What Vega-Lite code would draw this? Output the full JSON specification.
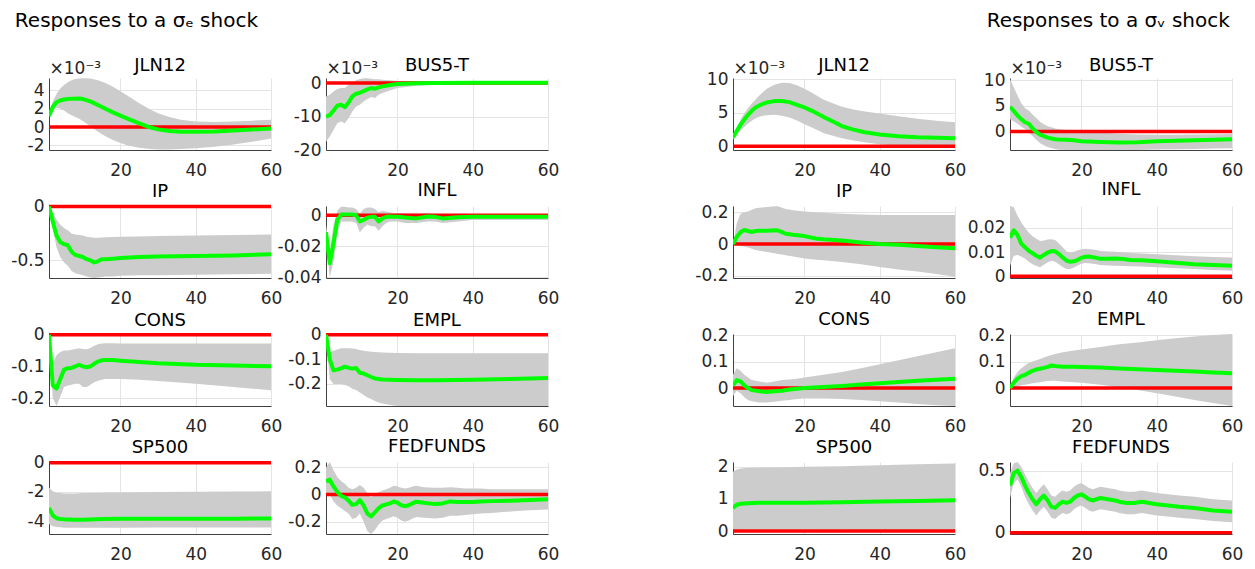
{
"$schema":"https://vega.github.io/schema/vega-lite/v6.json",
"background":"white",
"padding":{"left":10,"top":11,"right":5,"bottom":5},
"datasets":{
"L1":[{"x":1,"lo":1.1,"m":1.2,"hi":1.3},{"x":2,"lo":1.8,"m":2.2,"hi":2.8},{"x":3,"lo":2.1,"m":2.7,"hi":3.6},{"x":4,"lo":2.0,"m":2.9,"hi":4.2},{"x":5,"lo":1.8,"m":3.0,"hi":4.6},{"x":6,"lo":1.5,"m":3.05,"hi":4.9},{"x":7,"lo":1.3,"m":3.1,"hi":5.1},{"x":8,"lo":1.1,"m":3.1,"hi":5.25},{"x":9,"lo":0.9,"m":3.12,"hi":5.3},{"x":10,"lo":0.65,"m":3.05,"hi":5.33},{"x":12,"lo":0.1,"m":2.8,"hi":5.3},{"x":14,"lo":-0.5,"m":2.4,"hi":5.1},{"x":16,"lo":-1.0,"m":2.0,"hi":4.8},{"x":18,"lo":-1.4,"m":1.6,"hi":4.4},{"x":20,"lo":-1.75,"m":1.25,"hi":3.9},{"x":22,"lo":-2.0,"m":0.9,"hi":3.4},{"x":25,"lo":-2.25,"m":0.4,"hi":2.6},{"x":28,"lo":-2.4,"m":-0.05,"hi":1.9},{"x":30,"lo":-2.45,"m":-0.25,"hi":1.5},{"x":33,"lo":-2.45,"m":-0.42,"hi":1.1},{"x":36,"lo":-2.4,"m":-0.5,"hi":0.8},{"x":40,"lo":-2.3,"m":-0.52,"hi":0.6},{"x":45,"lo":-2.15,"m":-0.48,"hi":0.55},{"x":50,"lo":-1.9,"m":-0.38,"hi":0.6},{"x":55,"lo":-1.6,"m":-0.27,"hi":0.7},{"x":60,"lo":-1.25,"m":-0.15,"hi":0.8}],
"L2":[{"x":1,"lo":-17.5,"m":-10,"hi":-4},{"x":2,"lo":-16,"m":-9.6,"hi":-3.5},{"x":3,"lo":-14,"m":-8.2,"hi":-2.5},{"x":4,"lo":-12,"m":-6.8,"hi":-1.8},{"x":5,"lo":-11.5,"m":-6.5,"hi":-1.5},{"x":6,"lo":-12,"m":-7.2,"hi":-1.5},{"x":7,"lo":-10.5,"m":-5.8,"hi":-0.5},{"x":8,"lo":-8.5,"m":-4.0,"hi":0.2},{"x":9,"lo":-7,"m":-3.2,"hi":0.8},{"x":10,"lo":-6.5,"m":-2.9,"hi":1.2},{"x":11,"lo":-5.5,"m":-2.4,"hi":1.4},{"x":12,"lo":-4.8,"m":-1.9,"hi":1.4},{"x":13,"lo":-4.2,"m":-1.5,"hi":1.3},{"x":14,"lo":-4.5,"m":-1.7,"hi":1.1},{"x":15,"lo":-3.5,"m":-1.3,"hi":1.1},{"x":16,"lo":-3,"m":-1.0,"hi":1.0},{"x":18,"lo":-2.2,"m":-0.6,"hi":0.8},{"x":20,"lo":-1.5,"m":-0.3,"hi":0.6},{"x":25,"lo":-0.8,"m":-0.05,"hi":0.45},{"x":30,"lo":-0.5,"m":0.0,"hi":0.35},{"x":40,"lo":-0.35,"m":0.05,"hi":0.3},{"x":50,"lo":-0.3,"m":0.1,"hi":0.3},{"x":60,"lo":-0.25,"m":0.1,"hi":0.3}],
"L3":[{"x":1,"lo":0,"m":0,"hi":0},{"x":2,"lo":-0.2,"m":-0.14,"hi":-0.05},{"x":3,"lo":-0.38,"m":-0.27,"hi":-0.12},{"x":4,"lo":-0.47,"m":-0.33,"hi":-0.17},{"x":5,"lo":-0.52,"m":-0.35,"hi":-0.2},{"x":6,"lo":-0.55,"m":-0.36,"hi":-0.22},{"x":7,"lo":-0.6,"m":-0.42,"hi":-0.25},{"x":8,"lo":-0.62,"m":-0.45,"hi":-0.26},{"x":9,"lo":-0.63,"m":-0.46,"hi":-0.265},{"x":10,"lo":-0.64,"m":-0.47,"hi":-0.27},{"x":11,"lo":-0.65,"m":-0.49,"hi":-0.28},{"x":12,"lo":-0.66,"m":-0.5,"hi":-0.285},{"x":13,"lo":-0.665,"m":-0.52,"hi":-0.29},{"x":14,"lo":-0.66,"m":-0.51,"hi":-0.29},{"x":15,"lo":-0.655,"m":-0.49,"hi":-0.287},{"x":16,"lo":-0.65,"m":-0.49,"hi":-0.285},{"x":18,"lo":-0.65,"m":-0.485,"hi":-0.283},{"x":20,"lo":-0.645,"m":-0.48,"hi":-0.28},{"x":25,"lo":-0.64,"m":-0.47,"hi":-0.278},{"x":30,"lo":-0.64,"m":-0.465,"hi":-0.275},{"x":40,"lo":-0.635,"m":-0.46,"hi":-0.27},{"x":50,"lo":-0.63,"m":-0.455,"hi":-0.265},{"x":60,"lo":-0.625,"m":-0.445,"hi":-0.26}],
"L4":[{"x":1,"lo":-0.015,"m":-0.011,"hi":-0.006},{"x":2,"lo":-0.04,"m":-0.031,"hi":-0.024},{"x":3,"lo":-0.03,"m":-0.018,"hi":-0.006},{"x":4,"lo":-0.012,"m":-0.003,"hi":0.003},{"x":5,"lo":-0.004,"m":0.0005,"hi":0.0055},{"x":6,"lo":-0.004,"m":0.0005,"hi":0.0055},{"x":7,"lo":-0.004,"m":0.0005,"hi":0.005},{"x":8,"lo":-0.004,"m":0.0005,"hi":0.005},{"x":9,"lo":-0.005,"m":0,"hi":0.004},{"x":10,"lo":-0.011,"m":-0.004,"hi":0.001},{"x":11,"lo":-0.008,"m":-0.003,"hi":0.004},{"x":12,"lo":-0.006,"m":-0.0015,"hi":0.005},{"x":13,"lo":-0.007,"m":-0.001,"hi":0.005},{"x":14,"lo":-0.007,"m":-0.001,"hi":0.004},{"x":15,"lo":-0.01,"m":-0.004,"hi":0.002},{"x":16,"lo":-0.007,"m":-0.002,"hi":0.003},{"x":17,"lo":-0.005,"m":-0.001,"hi":0.0025},{"x":18,"lo":-0.004,"m":-0.0008,"hi":0.002},{"x":19,"lo":-0.004,"m":-0.001,"hi":0.0015},{"x":20,"lo":-0.004,"m":-0.001,"hi":0.0015},{"x":22,"lo":-0.005,"m":-0.0015,"hi":0.0015},{"x":25,"lo":-0.005,"m":-0.002,"hi":0.001},{"x":28,"lo":-0.004,"m":-0.0008,"hi":0.0015},{"x":30,"lo":-0.004,"m":-0.001,"hi":0.001},{"x":32,"lo":-0.005,"m":-0.002,"hi":0.0008},{"x":36,"lo":-0.004,"m":-0.0012,"hi":0.001},{"x":40,"lo":-0.003,"m":-0.001,"hi":0.0008},{"x":50,"lo":-0.003,"m":-0.001,"hi":0.0008},{"x":60,"lo":-0.003,"m":-0.001,"hi":0.0008}],
"L5":[{"x":1,"lo":-0.01,"m":0,"hi":0},{"x":2,"lo":-0.2,"m":-0.16,"hi":-0.09},{"x":3,"lo":-0.225,"m":-0.17,"hi":-0.065},{"x":4,"lo":-0.195,"m":-0.14,"hi":-0.055},{"x":5,"lo":-0.165,"m":-0.11,"hi":-0.05},{"x":6,"lo":-0.16,"m":-0.106,"hi":-0.05},{"x":7,"lo":-0.158,"m":-0.105,"hi":-0.048},{"x":8,"lo":-0.155,"m":-0.1,"hi":-0.045},{"x":9,"lo":-0.155,"m":-0.095,"hi":-0.043},{"x":10,"lo":-0.165,"m":-0.1,"hi":-0.045},{"x":11,"lo":-0.165,"m":-0.103,"hi":-0.046},{"x":12,"lo":-0.158,"m":-0.1,"hi":-0.042},{"x":13,"lo":-0.15,"m":-0.092,"hi":-0.035},{"x":14,"lo":-0.145,"m":-0.085,"hi":-0.03},{"x":15,"lo":-0.142,"m":-0.081,"hi":-0.028},{"x":16,"lo":-0.14,"m":-0.08,"hi":-0.027},{"x":18,"lo":-0.14,"m":-0.08,"hi":-0.027},{"x":20,"lo":-0.14,"m":-0.082,"hi":-0.028},{"x":25,"lo":-0.142,"m":-0.086,"hi":-0.028},{"x":30,"lo":-0.146,"m":-0.09,"hi":-0.028},{"x":40,"lo":-0.155,"m":-0.095,"hi":-0.028},{"x":50,"lo":-0.165,"m":-0.097,"hi":-0.028},{"x":60,"lo":-0.175,"m":-0.1,"hi":-0.028}],
"L6":[{"x":1,"lo":-0.01,"m":0,"hi":0},{"x":2,"lo":-0.18,"m":-0.1,"hi":-0.07},{"x":3,"lo":-0.2,"m":-0.145,"hi":-0.065},{"x":4,"lo":-0.2,"m":-0.142,"hi":-0.06},{"x":5,"lo":-0.2,"m":-0.137,"hi":-0.055},{"x":6,"lo":-0.205,"m":-0.13,"hi":-0.055},{"x":7,"lo":-0.21,"m":-0.135,"hi":-0.055},{"x":8,"lo":-0.22,"m":-0.138,"hi":-0.056},{"x":9,"lo":-0.225,"m":-0.135,"hi":-0.058},{"x":10,"lo":-0.235,"m":-0.155,"hi":-0.062},{"x":11,"lo":-0.245,"m":-0.158,"hi":-0.065},{"x":12,"lo":-0.255,"m":-0.165,"hi":-0.067},{"x":13,"lo":-0.262,"m":-0.172,"hi":-0.069},{"x":14,"lo":-0.27,"m":-0.178,"hi":-0.07},{"x":15,"lo":-0.276,"m":-0.18,"hi":-0.071},{"x":16,"lo":-0.28,"m":-0.182,"hi":-0.072},{"x":18,"lo":-0.286,"m":-0.183,"hi":-0.073},{"x":20,"lo":-0.29,"m":-0.184,"hi":-0.074},{"x":25,"lo":-0.29,"m":-0.185,"hi":-0.075},{"x":30,"lo":-0.29,"m":-0.185,"hi":-0.075},{"x":40,"lo":-0.29,"m":-0.183,"hi":-0.075},{"x":50,"lo":-0.29,"m":-0.18,"hi":-0.075},{"x":60,"lo":-0.29,"m":-0.176,"hi":-0.075}],
"L7":[{"x":1,"lo":-4.2,"m":-3.1,"hi":-1.7},{"x":2,"lo":-4.35,"m":-3.6,"hi":-1.95},{"x":3,"lo":-4.4,"m":-3.8,"hi":-2.05},{"x":4,"lo":-4.42,"m":-3.85,"hi":-2.08},{"x":5,"lo":-4.45,"m":-3.87,"hi":-2.1},{"x":6,"lo":-4.45,"m":-3.88,"hi":-2.1},{"x":8,"lo":-4.46,"m":-3.9,"hi":-2.1},{"x":10,"lo":-4.46,"m":-3.9,"hi":-2.08},{"x":12,"lo":-4.46,"m":-3.88,"hi":-2.07},{"x":15,"lo":-4.45,"m":-3.85,"hi":-2.05},{"x":20,"lo":-4.45,"m":-3.84,"hi":-2.03},{"x":30,"lo":-4.44,"m":-3.83,"hi":-2.0},{"x":40,"lo":-4.44,"m":-3.83,"hi":-1.98},{"x":50,"lo":-4.43,"m":-3.83,"hi":-1.97},{"x":60,"lo":-4.43,"m":-3.82,"hi":-1.96}],
"L8":[{"x":1,"lo":0.0,"m":0.1,"hi":0.2},{"x":2,"lo":0.0,"m":0.11,"hi":0.24},{"x":3,"lo":-0.05,"m":0.06,"hi":0.18},{"x":4,"lo":-0.08,"m":0.02,"hi":0.13},{"x":5,"lo":-0.1,"m":-0.01,"hi":0.1},{"x":6,"lo":-0.12,"m":-0.02,"hi":0.08},{"x":7,"lo":-0.14,"m":-0.045,"hi":0.05},{"x":8,"lo":-0.18,"m":-0.075,"hi":0.04},{"x":9,"lo":-0.17,"m":-0.07,"hi":0.05},{"x":10,"lo":-0.14,"m":-0.04,"hi":0.07},{"x":11,"lo":-0.2,"m":-0.08,"hi":0.05},{"x":12,"lo":-0.27,"m":-0.14,"hi":0.01},{"x":13,"lo":-0.29,"m":-0.16,"hi":-0.02},{"x":14,"lo":-0.26,"m":-0.13,"hi":0.0},{"x":15,"lo":-0.22,"m":-0.1,"hi":0.02},{"x":16,"lo":-0.19,"m":-0.08,"hi":0.03},{"x":17,"lo":-0.18,"m":-0.072,"hi":0.04},{"x":18,"lo":-0.17,"m":-0.065,"hi":0.05},{"x":19,"lo":-0.16,"m":-0.05,"hi":0.065},{"x":20,"lo":-0.17,"m":-0.06,"hi":0.06},{"x":21,"lo":-0.19,"m":-0.078,"hi":0.05},{"x":22,"lo":-0.2,"m":-0.085,"hi":0.045},{"x":23,"lo":-0.19,"m":-0.078,"hi":0.05},{"x":24,"lo":-0.175,"m":-0.065,"hi":0.06},{"x":25,"lo":-0.165,"m":-0.052,"hi":0.065},{"x":27,"lo":-0.17,"m":-0.06,"hi":0.055},{"x":30,"lo":-0.175,"m":-0.07,"hi":0.05},{"x":32,"lo":-0.17,"m":-0.065,"hi":0.05},{"x":34,"lo":-0.155,"m":-0.05,"hi":0.055},{"x":36,"lo":-0.155,"m":-0.055,"hi":0.05},{"x":38,"lo":-0.15,"m":-0.055,"hi":0.045},{"x":40,"lo":-0.145,"m":-0.055,"hi":0.045},{"x":42,"lo":-0.14,"m":-0.05,"hi":0.045},{"x":45,"lo":-0.135,"m":-0.048,"hi":0.04},{"x":50,"lo":-0.125,"m":-0.045,"hi":0.04},{"x":55,"lo":-0.115,"m":-0.04,"hi":0.04},{"x":60,"lo":-0.11,"m":-0.035,"hi":0.04}],
"R1":[{"x":1,"lo":1.0,"m":1.3,"hi":1.6},{"x":2,"lo":1.8,"m":2.3,"hi":2.8},{"x":3,"lo":2.4,"m":3.2,"hi":4.0},{"x":4,"lo":2.9,"m":4.0,"hi":4.9},{"x":5,"lo":3.4,"m":4.7,"hi":5.7},{"x":6,"lo":3.8,"m":5.3,"hi":6.4},{"x":7,"lo":4.2,"m":5.8,"hi":7.0},{"x":8,"lo":4.4,"m":6.1,"hi":7.6},{"x":9,"lo":4.55,"m":6.35,"hi":8.1},{"x":10,"lo":4.65,"m":6.55,"hi":8.6},{"x":12,"lo":4.7,"m":6.75,"hi":9.2},{"x":14,"lo":4.55,"m":6.75,"hi":9.5},{"x":16,"lo":4.3,"m":6.6,"hi":9.45},{"x":18,"lo":3.85,"m":6.2,"hi":9.1},{"x":20,"lo":3.3,"m":5.8,"hi":8.6},{"x":22,"lo":2.8,"m":5.3,"hi":8.0},{"x":25,"lo":2.0,"m":4.4,"hi":7.0},{"x":28,"lo":1.5,"m":3.6,"hi":6.3},{"x":30,"lo":1.2,"m":3.0,"hi":5.9},{"x":33,"lo":0.85,"m":2.5,"hi":5.5},{"x":36,"lo":0.6,"m":2.1,"hi":5.2},{"x":40,"lo":0.3,"m":1.75,"hi":4.9},{"x":45,"lo":0.1,"m":1.5,"hi":4.5},{"x":50,"lo":0.0,"m":1.35,"hi":4.1},{"x":55,"lo":-0.05,"m":1.27,"hi":3.8},{"x":60,"lo":-0.1,"m":1.2,"hi":3.6}],
"R2":[{"x":1,"lo":2.4,"m":4.8,"hi":10.2},{"x":2,"lo":2.0,"m":4.0,"hi":8.6},{"x":3,"lo":1.5,"m":3.1,"hi":7.0},{"x":4,"lo":0.9,"m":2.4,"hi":5.5},{"x":5,"lo":0.5,"m":1.8,"hi":4.5},{"x":6,"lo":-0.2,"m":1.5,"hi":4.1},{"x":7,"lo":-0.9,"m":0.6,"hi":3.3},{"x":8,"lo":-1.6,"m":-0.1,"hi":2.6},{"x":9,"lo":-2.3,"m":-0.6,"hi":1.9},{"x":10,"lo":-2.7,"m":-0.9,"hi":1.4},{"x":11,"lo":-3.0,"m":-1.2,"hi":1.0},{"x":12,"lo":-3.2,"m":-1.35,"hi":0.8},{"x":13,"lo":-3.4,"m":-1.5,"hi":0.6},{"x":14,"lo":-3.55,"m":-1.55,"hi":0.45},{"x":16,"lo":-3.6,"m":-1.6,"hi":0.3},{"x":18,"lo":-3.6,"m":-1.7,"hi":0.2},{"x":20,"lo":-3.6,"m":-1.9,"hi":0.1},{"x":25,"lo":-3.6,"m":-2.05,"hi":-0.2},{"x":30,"lo":-3.6,"m":-2.15,"hi":-0.45},{"x":35,"lo":-3.6,"m":-2.1,"hi":-0.6},{"x":40,"lo":-3.5,"m":-1.9,"hi":-0.65},{"x":45,"lo":-3.45,"m":-1.8,"hi":-0.65},{"x":50,"lo":-3.4,"m":-1.7,"hi":-0.6},{"x":55,"lo":-3.3,"m":-1.6,"hi":-0.55},{"x":60,"lo":-3.25,"m":-1.5,"hi":-0.5}],
"R3":[{"x":1,"lo":0,"m":0,"hi":0},{"x":2,"lo":-0.005,"m":0.045,"hi":0.13},{"x":3,"lo":-0.01,"m":0.075,"hi":0.19},{"x":4,"lo":-0.015,"m":0.088,"hi":0.2},{"x":5,"lo":-0.022,"m":0.082,"hi":0.205},{"x":6,"lo":-0.03,"m":0.076,"hi":0.215},{"x":7,"lo":-0.037,"m":0.082,"hi":0.225},{"x":8,"lo":-0.042,"m":0.083,"hi":0.228},{"x":10,"lo":-0.05,"m":0.084,"hi":0.232},{"x":12,"lo":-0.058,"m":0.087,"hi":0.238},{"x":13,"lo":-0.062,"m":0.085,"hi":0.238},{"x":14,"lo":-0.066,"m":0.075,"hi":0.228},{"x":15,"lo":-0.07,"m":0.065,"hi":0.22},{"x":17,"lo":-0.078,"m":0.058,"hi":0.212},{"x":20,"lo":-0.09,"m":0.05,"hi":0.205},{"x":23,"lo":-0.098,"m":0.035,"hi":0.2},{"x":25,"lo":-0.102,"m":0.03,"hi":0.197},{"x":30,"lo":-0.112,"m":0.022,"hi":0.19},{"x":35,"lo":-0.126,"m":0.01,"hi":0.186},{"x":40,"lo":-0.144,"m":0.0,"hi":0.183},{"x":45,"lo":-0.16,"m":-0.005,"hi":0.182},{"x":50,"lo":-0.172,"m":-0.012,"hi":0.182},{"x":55,"lo":-0.188,"m":-0.02,"hi":0.182},{"x":60,"lo":-0.205,"m":-0.027,"hi":0.182}],
"R4":[{"x":1,"lo":0.0044,"m":0.0159,"hi":0.029},{"x":2,"lo":0.0085,"m":0.019,"hi":0.0285},{"x":3,"lo":0.0088,"m":0.017,"hi":0.025},{"x":4,"lo":0.0082,"m":0.0135,"hi":0.0222},{"x":5,"lo":0.0072,"m":0.012,"hi":0.02},{"x":6,"lo":0.006,"m":0.0105,"hi":0.018},{"x":7,"lo":0.005,"m":0.0095,"hi":0.0165},{"x":8,"lo":0.0042,"m":0.0085,"hi":0.0155},{"x":9,"lo":0.0037,"m":0.0077,"hi":0.0146},{"x":10,"lo":0.0048,"m":0.0088,"hi":0.0148},{"x":11,"lo":0.0058,"m":0.0098,"hi":0.0152},{"x":12,"lo":0.0064,"m":0.0104,"hi":0.0153},{"x":13,"lo":0.006,"m":0.0103,"hi":0.015},{"x":14,"lo":0.005,"m":0.0092,"hi":0.0135},{"x":15,"lo":0.0038,"m":0.0078,"hi":0.012},{"x":16,"lo":0.003,"m":0.0065,"hi":0.0102},{"x":17,"lo":0.003,"m":0.006,"hi":0.0098},{"x":18,"lo":0.0036,"m":0.0062,"hi":0.0101},{"x":19,"lo":0.0045,"m":0.0068,"hi":0.0107},{"x":20,"lo":0.0052,"m":0.0076,"hi":0.0112},{"x":21,"lo":0.0055,"m":0.0081,"hi":0.0114},{"x":22,"lo":0.0054,"m":0.0082,"hi":0.0113},{"x":24,"lo":0.005,"m":0.0076,"hi":0.0108},{"x":25,"lo":0.0047,"m":0.0072,"hi":0.0104},{"x":27,"lo":0.0045,"m":0.0072,"hi":0.0102},{"x":29,"lo":0.0044,"m":0.0073,"hi":0.0101},{"x":31,"lo":0.0043,"m":0.0071,"hi":0.0099},{"x":33,"lo":0.0041,"m":0.0067,"hi":0.0096},{"x":36,"lo":0.004,"m":0.0066,"hi":0.0094},{"x":40,"lo":0.0037,"m":0.0062,"hi":0.0091},{"x":45,"lo":0.0033,"m":0.0056,"hi":0.0087},{"x":50,"lo":0.003,"m":0.005,"hi":0.0083},{"x":55,"lo":0.0026,"m":0.0047,"hi":0.008},{"x":60,"lo":0.0023,"m":0.0044,"hi":0.0078}],
"R5":[{"x":1,"lo":-0.03,"m":0.01,"hi":0.05},{"x":2,"lo":-0.01,"m":0.03,"hi":0.075},{"x":3,"lo":-0.02,"m":0.025,"hi":0.065},{"x":4,"lo":-0.035,"m":0.01,"hi":0.05},{"x":5,"lo":-0.045,"m":0.0,"hi":0.04},{"x":6,"lo":-0.05,"m":-0.008,"hi":0.03},{"x":8,"lo":-0.055,"m":-0.012,"hi":0.025},{"x":10,"lo":-0.055,"m":-0.015,"hi":0.02},{"x":12,"lo":-0.052,"m":-0.012,"hi":0.025},{"x":14,"lo":-0.048,"m":-0.01,"hi":0.03},{"x":16,"lo":-0.045,"m":-0.006,"hi":0.032},{"x":18,"lo":-0.042,"m":-0.003,"hi":0.035},{"x":20,"lo":-0.04,"m":0.0,"hi":0.04},{"x":25,"lo":-0.04,"m":0.004,"hi":0.05},{"x":30,"lo":-0.042,"m":0.008,"hi":0.06},{"x":35,"lo":-0.045,"m":0.013,"hi":0.075},{"x":40,"lo":-0.05,"m":0.018,"hi":0.09},{"x":45,"lo":-0.055,"m":0.023,"hi":0.105},{"x":50,"lo":-0.06,"m":0.027,"hi":0.12},{"x":55,"lo":-0.065,"m":0.031,"hi":0.135},{"x":60,"lo":-0.068,"m":0.035,"hi":0.15}],
"R6":[{"x":1,"lo":0,"m":0,"hi":0},{"x":2,"lo":0,"m":0.02,"hi":0.04},{"x":3,"lo":0.005,"m":0.035,"hi":0.06},{"x":4,"lo":0.01,"m":0.045,"hi":0.075},{"x":5,"lo":0.012,"m":0.05,"hi":0.085},{"x":6,"lo":0.015,"m":0.058,"hi":0.095},{"x":7,"lo":0.018,"m":0.065,"hi":0.1},{"x":8,"lo":0.02,"m":0.07,"hi":0.105},{"x":9,"lo":0.022,"m":0.073,"hi":0.11},{"x":10,"lo":0.025,"m":0.076,"hi":0.115},{"x":11,"lo":0.026,"m":0.08,"hi":0.12},{"x":12,"lo":0.027,"m":0.085,"hi":0.125},{"x":13,"lo":0.027,"m":0.083,"hi":0.128},{"x":15,"lo":0.025,"m":0.08,"hi":0.135},{"x":18,"lo":0.022,"m":0.08,"hi":0.142},{"x":20,"lo":0.02,"m":0.079,"hi":0.145},{"x":25,"lo":0.012,"m":0.077,"hi":0.155},{"x":30,"lo":0.003,"m":0.074,"hi":0.165},{"x":35,"lo":-0.008,"m":0.071,"hi":0.172},{"x":40,"lo":-0.02,"m":0.068,"hi":0.18},{"x":45,"lo":-0.032,"m":0.065,"hi":0.188},{"x":50,"lo":-0.045,"m":0.062,"hi":0.195},{"x":55,"lo":-0.057,"m":0.059,"hi":0.2},{"x":60,"lo":-0.068,"m":0.056,"hi":0.204}],
"R7":[{"x":1,"lo":0.0,"m":0.72,"hi":1.85},{"x":2,"lo":0.03,"m":0.82,"hi":1.92},{"x":3,"lo":0.04,"m":0.85,"hi":1.95},{"x":5,"lo":0.05,"m":0.87,"hi":1.97},{"x":8,"lo":0.05,"m":0.88,"hi":1.98},{"x":10,"lo":0.05,"m":0.88,"hi":1.98},{"x":15,"lo":0.05,"m":0.88,"hi":1.99},{"x":20,"lo":0.05,"m":0.88,"hi":2.0},{"x":30,"lo":0.04,"m":0.9,"hi":2.02},{"x":40,"lo":0.02,"m":0.92,"hi":2.05},{"x":50,"lo":0.0,"m":0.94,"hi":2.08},{"x":60,"lo":-0.03,"m":0.96,"hi":2.1}],
"R8":[{"x":1,"lo":0.28,"m":0.38,"hi":0.48},{"x":2,"lo":0.4,"m":0.48,"hi":0.56},{"x":3,"lo":0.43,"m":0.5,"hi":0.57},{"x":4,"lo":0.37,"m":0.45,"hi":0.53},{"x":5,"lo":0.29,"m":0.38,"hi":0.47},{"x":6,"lo":0.23,"m":0.32,"hi":0.41},{"x":7,"lo":0.18,"m":0.27,"hi":0.36},{"x":8,"lo":0.14,"m":0.23,"hi":0.32},{"x":9,"lo":0.18,"m":0.27,"hi":0.36},{"x":10,"lo":0.21,"m":0.3,"hi":0.39},{"x":11,"lo":0.17,"m":0.26,"hi":0.35},{"x":12,"lo":0.12,"m":0.21,"hi":0.3},{"x":13,"lo":0.11,"m":0.2,"hi":0.29},{"x":14,"lo":0.14,"m":0.23,"hi":0.32},{"x":15,"lo":0.16,"m":0.25,"hi":0.34},{"x":16,"lo":0.15,"m":0.24,"hi":0.33},{"x":17,"lo":0.16,"m":0.25,"hi":0.34},{"x":18,"lo":0.19,"m":0.28,"hi":0.37},{"x":19,"lo":0.21,"m":0.3,"hi":0.39},{"x":20,"lo":0.22,"m":0.31,"hi":0.4},{"x":21,"lo":0.2,"m":0.29,"hi":0.38},{"x":22,"lo":0.18,"m":0.27,"hi":0.36},{"x":23,"lo":0.17,"m":0.26,"hi":0.35},{"x":24,"lo":0.18,"m":0.27,"hi":0.36},{"x":25,"lo":0.19,"m":0.28,"hi":0.37},{"x":27,"lo":0.18,"m":0.27,"hi":0.36},{"x":29,"lo":0.17,"m":0.26,"hi":0.35},{"x":30,"lo":0.16,"m":0.25,"hi":0.34},{"x":32,"lo":0.15,"m":0.24,"hi":0.33},{"x":34,"lo":0.15,"m":0.24,"hi":0.33},{"x":36,"lo":0.16,"m":0.25,"hi":0.34},{"x":38,"lo":0.15,"m":0.24,"hi":0.33},{"x":40,"lo":0.14,"m":0.23,"hi":0.32},{"x":43,"lo":0.13,"m":0.22,"hi":0.31},{"x":46,"lo":0.12,"m":0.21,"hi":0.3},{"x":50,"lo":0.11,"m":0.2,"hi":0.29},{"x":55,"lo":0.095,"m":0.18,"hi":0.27},{"x":60,"lo":0.085,"m":0.17,"hi":0.26}]
},
"hconcat":[
{"title":{"text":"Responses to a σₑ shock","anchor":"start","dx":4,"fontSize":20,"offset":26},
 "columns":2,"spacing":{"row":56,"column":55},"bounds":"flush",
 "concat":[
  {"width":222,"height":72,"title":{"text":"JLN12","offset":-16},"data":{"name":"L1"},"layer":[
   {"mark":{"type":"area","color":"#cccccc","clip":true},"encoding":{"x":{"field":"x","type":"quantitative","title":null,"scale":{"domain":[1,60],"nice":false,"zero":false},"axis":{"values":[20,40,60],"format":"d","labelOverlap":false,"tickCount":10}},"y":{"field":"lo","type":"quantitative","title":"×10⁻³","scale":{"domain":[-2.5,5.35],"nice":false,"zero":false},"axis":{"values":[-2,0,2,4],"format":".3~g","labelOverlap":false,"tickCount":10}},"y2":{"field":"hi"}}},
   {"data":{"values":[{}]},"mark":{"type":"rule","color":"#ff0000","strokeWidth":3.5},"encoding":{"y":{"datum":0,"type":"quantitative"}}},
   {"mark":{"type":"line","color":"#00ff00","strokeWidth":4,"clip":true,"strokeJoin":"round"},"encoding":{"x":{"field":"x","type":"quantitative","title":null},"y":{"field":"m","type":"quantitative","title":"×10⁻³"}}}]},
  {"width":222,"height":72,"title":{"text":"BUS5-T","offset":-16},"data":{"name":"L2"},"layer":[
   {"mark":{"type":"area","color":"#cccccc","clip":true},"encoding":{"x":{"field":"x","type":"quantitative","title":null,"scale":{"domain":[1,60],"nice":false,"zero":false},"axis":{"values":[20,40,60],"format":"d","labelOverlap":false,"tickCount":10}},"y":{"field":"lo","type":"quantitative","title":"×10⁻³","scale":{"domain":[-20,1.5],"nice":false,"zero":false},"axis":{"values":[-20,-10,0],"format":".3~g","labelOverlap":false,"tickCount":10}},"y2":{"field":"hi"}}},
   {"data":{"values":[{}]},"mark":{"type":"rule","color":"#ff0000","strokeWidth":3.5},"encoding":{"y":{"datum":0,"type":"quantitative"}}},
   {"mark":{"type":"line","color":"#00ff00","strokeWidth":4,"clip":true,"strokeJoin":"round"},"encoding":{"x":{"field":"x","type":"quantitative","title":null},"y":{"field":"m","type":"quantitative","title":"×10⁻³"}}}]},
  {"width":222,"height":72,"title":{"text":"IP","offset":-3},"data":{"name":"L3"},"layer":[
   {"mark":{"type":"area","color":"#cccccc","clip":true},"encoding":{"x":{"field":"x","type":"quantitative","title":null,"scale":{"domain":[1,60],"nice":false,"zero":false},"axis":{"values":[20,40,60],"format":"d","labelOverlap":false,"tickCount":10}},"y":{"field":"lo","type":"quantitative","title":null,"scale":{"domain":[-0.665,0.005],"nice":false,"zero":false},"axis":{"values":[-0.5,0],"format":".3~g","labelOverlap":false,"tickCount":10}},"y2":{"field":"hi"}}},
   {"data":{"values":[{}]},"mark":{"type":"rule","color":"#ff0000","strokeWidth":3.5},"encoding":{"y":{"datum":0,"type":"quantitative"}}},
   {"mark":{"type":"line","color":"#00ff00","strokeWidth":4,"clip":true,"strokeJoin":"round"},"encoding":{"x":{"field":"x","type":"quantitative","title":null},"y":{"field":"m","type":"quantitative","title":null}}}]},
  {"width":222,"height":72,"title":{"text":"INFL","offset":5.8},"data":{"name":"L4"},"layer":[
   {"mark":{"type":"area","color":"#cccccc","clip":true},"encoding":{"x":{"field":"x","type":"quantitative","title":null,"scale":{"domain":[1,60],"nice":false,"zero":false},"axis":{"values":[20,40,60],"format":"d","labelOverlap":false,"tickCount":10}},"y":{"field":"lo","type":"quantitative","title":null,"scale":{"domain":[-0.0405,0.006],"nice":false,"zero":false},"axis":{"values":[-0.04,-0.02,0],"format":".3~g","labelOverlap":false,"tickCount":10}},"y2":{"field":"hi"}}},
   {"data":{"values":[{}]},"mark":{"type":"rule","color":"#ff0000","strokeWidth":3.5},"encoding":{"y":{"datum":0,"type":"quantitative"}}},
   {"mark":{"type":"line","color":"#00ff00","strokeWidth":4,"clip":true,"strokeJoin":"round"},"encoding":{"x":{"field":"x","type":"quantitative","title":null},"y":{"field":"m","type":"quantitative","title":null}}}]},
  {"width":222,"height":72,"title":{"text":"CONS","offset":-4},"data":{"name":"L5"},"layer":[
   {"mark":{"type":"area","color":"#cccccc","clip":true},"encoding":{"x":{"field":"x","type":"quantitative","title":null,"scale":{"domain":[1,60],"nice":false,"zero":false},"axis":{"values":[20,40,60],"format":"d","labelOverlap":false,"tickCount":10}},"y":{"field":"lo","type":"quantitative","title":null,"scale":{"domain":[-0.225,0.002],"nice":false,"zero":false},"axis":{"values":[-0.2,-0.1,0],"format":".3~g","labelOverlap":false,"tickCount":10}},"y2":{"field":"hi"}}},
   {"data":{"values":[{}]},"mark":{"type":"rule","color":"#ff0000","strokeWidth":3.5},"encoding":{"y":{"datum":0,"type":"quantitative"}}},
   {"mark":{"type":"line","color":"#00ff00","strokeWidth":4,"clip":true,"strokeJoin":"round"},"encoding":{"x":{"field":"x","type":"quantitative","title":null},"y":{"field":"m","type":"quantitative","title":null}}}]},
  {"width":222,"height":72,"title":{"text":"EMPL","offset":-3.8},"data":{"name":"L6"},"layer":[
   {"mark":{"type":"area","color":"#cccccc","clip":true},"encoding":{"x":{"field":"x","type":"quantitative","title":null,"scale":{"domain":[1,60],"nice":false,"zero":false},"axis":{"values":[20,40,60],"format":"d","labelOverlap":false,"tickCount":10}},"y":{"field":"lo","type":"quantitative","title":null,"scale":{"domain":[-0.29,0.003],"nice":false,"zero":false},"axis":{"values":[-0.2,-0.1,0],"format":".3~g","labelOverlap":false,"tickCount":10}},"y2":{"field":"hi"}}},
   {"data":{"values":[{}]},"mark":{"type":"rule","color":"#ff0000","strokeWidth":3.5},"encoding":{"y":{"datum":0,"type":"quantitative"}}},
   {"mark":{"type":"line","color":"#00ff00","strokeWidth":4,"clip":true,"strokeJoin":"round"},"encoding":{"x":{"field":"x","type":"quantitative","title":null},"y":{"field":"m","type":"quantitative","title":null}}}]},
  {"width":222,"height":72,"title":{"text":"SP500","offset":-3},"data":{"name":"L7"},"layer":[
   {"mark":{"type":"area","color":"#cccccc","clip":true},"encoding":{"x":{"field":"x","type":"quantitative","title":null,"scale":{"domain":[1,60],"nice":false,"zero":false},"axis":{"values":[20,40,60],"format":"d","labelOverlap":false,"tickCount":10}},"y":{"field":"lo","type":"quantitative","title":null,"scale":{"domain":[-4.88,0.05],"nice":false,"zero":false},"axis":{"values":[-4,-2,0],"format":".3~g","labelOverlap":false,"tickCount":10}},"y2":{"field":"hi"}}},
   {"data":{"values":[{}]},"mark":{"type":"rule","color":"#ff0000","strokeWidth":3.5},"encoding":{"y":{"datum":0,"type":"quantitative"}}},
   {"mark":{"type":"line","color":"#00ff00","strokeWidth":4,"clip":true,"strokeJoin":"round"},"encoding":{"x":{"field":"x","type":"quantitative","title":null},"y":{"field":"m","type":"quantitative","title":null}}}]},
  {"width":222,"height":72,"title":{"text":"FEDFUNDS","offset":2.5},"data":{"name":"L8"},"layer":[
   {"mark":{"type":"area","color":"#cccccc","clip":true},"encoding":{"x":{"field":"x","type":"quantitative","title":null,"scale":{"domain":[1,60],"nice":false,"zero":false},"axis":{"values":[20,40,60],"format":"d","labelOverlap":false,"tickCount":10}},"y":{"field":"lo","type":"quantitative","title":null,"scale":{"domain":[-0.29,0.24],"nice":false,"zero":false},"axis":{"values":[-0.2,0,0.2],"format":".3~g","labelOverlap":false,"tickCount":10}},"y2":{"field":"hi"}}},
   {"data":{"values":[{}]},"mark":{"type":"rule","color":"#ff0000","strokeWidth":3.5},"encoding":{"y":{"datum":0,"type":"quantitative"}}},
   {"mark":{"type":"line","color":"#00ff00","strokeWidth":4,"clip":true,"strokeJoin":"round"},"encoding":{"x":{"field":"x","type":"quantitative","title":null},"y":{"field":"m","type":"quantitative","title":null}}}]}
 ]},
{"title":{"text":"Responses to a σᵥ shock","anchor":"end","dx":-13,"fontSize":20,"offset":26},
 "columns":2,"spacing":{"row":56,"column":55},"bounds":"flush",
 "concat":[
  {"width":222,"height":72,"title":{"text":"JLN12","offset":-16},"data":{"name":"R1"},"layer":[
   {"mark":{"type":"area","color":"#cccccc","clip":true},"encoding":{"x":{"field":"x","type":"quantitative","title":null,"scale":{"domain":[1,60],"nice":false,"zero":false},"axis":{"values":[20,40,60],"format":"d","labelOverlap":false,"tickCount":10}},"y":{"field":"lo","type":"quantitative","title":"×10⁻³","scale":{"domain":[-0.55,10.2],"nice":false,"zero":false},"axis":{"values":[0,5,10],"format":".3~g","labelOverlap":false,"tickCount":10}},"y2":{"field":"hi"}}},
   {"data":{"values":[{}]},"mark":{"type":"rule","color":"#ff0000","strokeWidth":3.5},"encoding":{"y":{"datum":0,"type":"quantitative"}}},
   {"mark":{"type":"line","color":"#00ff00","strokeWidth":4,"clip":true,"strokeJoin":"round"},"encoding":{"x":{"field":"x","type":"quantitative","title":null},"y":{"field":"m","type":"quantitative","title":"×10⁻³"}}}]},
  {"width":222,"height":72,"title":{"text":"BUS5-T","offset":-16},"data":{"name":"R2"},"layer":[
   {"mark":{"type":"area","color":"#cccccc","clip":true},"encoding":{"x":{"field":"x","type":"quantitative","title":null,"scale":{"domain":[1,60],"nice":false,"zero":false},"axis":{"values":[20,40,60],"format":"d","labelOverlap":false,"tickCount":10}},"y":{"field":"lo","type":"quantitative","title":"×10⁻³","scale":{"domain":[-3.6,10.4],"nice":false,"zero":false},"axis":{"values":[0,5,10],"format":".3~g","labelOverlap":false,"tickCount":10}},"y2":{"field":"hi"}}},
   {"data":{"values":[{}]},"mark":{"type":"rule","color":"#ff0000","strokeWidth":3.5},"encoding":{"y":{"datum":0,"type":"quantitative"}}},
   {"mark":{"type":"line","color":"#00ff00","strokeWidth":4,"clip":true,"strokeJoin":"round"},"encoding":{"x":{"field":"x","type":"quantitative","title":null},"y":{"field":"m","type":"quantitative","title":"×10⁻³"}}}]},
  {"width":222,"height":72,"title":{"text":"IP","offset":2.7},"data":{"name":"R3"},"layer":[
   {"mark":{"type":"area","color":"#cccccc","clip":true},"encoding":{"x":{"field":"x","type":"quantitative","title":null,"scale":{"domain":[1,60],"nice":false,"zero":false},"axis":{"values":[20,40,60],"format":"d","labelOverlap":false,"tickCount":10}},"y":{"field":"lo","type":"quantitative","title":null,"scale":{"domain":[-0.213,0.239],"nice":false,"zero":false},"axis":{"values":[-0.2,0,0.2],"format":".3~g","labelOverlap":false,"tickCount":10}},"y2":{"field":"hi"}}},
   {"data":{"values":[{}]},"mark":{"type":"rule","color":"#ff0000","strokeWidth":3.5},"encoding":{"y":{"datum":0,"type":"quantitative"}}},
   {"mark":{"type":"line","color":"#00ff00","strokeWidth":4,"clip":true,"strokeJoin":"round"},"encoding":{"x":{"field":"x","type":"quantitative","title":null},"y":{"field":"m","type":"quantitative","title":null}}}]},
  {"width":222,"height":72,"title":{"text":"INFL","offset":7},"data":{"name":"R4"},"layer":[
   {"mark":{"type":"area","color":"#cccccc","clip":true},"encoding":{"x":{"field":"x","type":"quantitative","title":null,"scale":{"domain":[1,60],"nice":false,"zero":false},"axis":{"values":[20,40,60],"format":"d","labelOverlap":false,"tickCount":10}},"y":{"field":"lo","type":"quantitative","title":null,"scale":{"domain":[-0.0007,0.029],"nice":false,"zero":false},"axis":{"values":[0,0.01,0.02],"format":".3~g","labelOverlap":false,"tickCount":10}},"y2":{"field":"hi"}}},
   {"data":{"values":[{}]},"mark":{"type":"rule","color":"#ff0000","strokeWidth":3.5},"encoding":{"y":{"datum":0,"type":"quantitative"}}},
   {"mark":{"type":"line","color":"#00ff00","strokeWidth":4,"clip":true,"strokeJoin":"round"},"encoding":{"x":{"field":"x","type":"quantitative","title":null},"y":{"field":"m","type":"quantitative","title":null}}}]},
  {"width":222,"height":72,"title":{"text":"CONS","offset":-3.4},"data":{"name":"R5"},"layer":[
   {"mark":{"type":"area","color":"#cccccc","clip":true},"encoding":{"x":{"field":"x","type":"quantitative","title":null,"scale":{"domain":[1,60],"nice":false,"zero":false},"axis":{"values":[20,40,60],"format":"d","labelOverlap":false,"tickCount":10}},"y":{"field":"lo","type":"quantitative","title":null,"scale":{"domain":[-0.068,0.204],"nice":false,"zero":false},"axis":{"values":[0,0.1,0.2],"format":".3~g","labelOverlap":false,"tickCount":10}},"y2":{"field":"hi"}}},
   {"data":{"values":[{}]},"mark":{"type":"rule","color":"#ff0000","strokeWidth":3.5},"encoding":{"y":{"datum":0,"type":"quantitative"}}},
   {"mark":{"type":"line","color":"#00ff00","strokeWidth":4,"clip":true,"strokeJoin":"round"},"encoding":{"x":{"field":"x","type":"quantitative","title":null},"y":{"field":"m","type":"quantitative","title":null}}}]},
  {"width":222,"height":72,"title":{"text":"EMPL","offset":-3.4},"data":{"name":"R6"},"layer":[
   {"mark":{"type":"area","color":"#cccccc","clip":true},"encoding":{"x":{"field":"x","type":"quantitative","title":null,"scale":{"domain":[1,60],"nice":false,"zero":false},"axis":{"values":[20,40,60],"format":"d","labelOverlap":false,"tickCount":10}},"y":{"field":"lo","type":"quantitative","title":null,"scale":{"domain":[-0.068,0.204],"nice":false,"zero":false},"axis":{"values":[0,0.1,0.2],"format":".3~g","labelOverlap":false,"tickCount":10}},"y2":{"field":"hi"}}},
   {"data":{"values":[{}]},"mark":{"type":"rule","color":"#ff0000","strokeWidth":3.5},"encoding":{"y":{"datum":0,"type":"quantitative"}}},
   {"mark":{"type":"line","color":"#00ff00","strokeWidth":4,"clip":true,"strokeJoin":"round"},"encoding":{"x":{"field":"x","type":"quantitative","title":null},"y":{"field":"m","type":"quantitative","title":null}}}]},
  {"width":222,"height":72,"title":{"text":"SP500","offset":1.3},"data":{"name":"R7"},"layer":[
   {"mark":{"type":"area","color":"#cccccc","clip":true},"encoding":{"x":{"field":"x","type":"quantitative","title":null,"scale":{"domain":[1,60],"nice":false,"zero":false},"axis":{"values":[20,40,60],"format":"d","labelOverlap":false,"tickCount":10}},"y":{"field":"lo","type":"quantitative","title":null,"scale":{"domain":[-0.09,2.15],"nice":false,"zero":false},"axis":{"values":[0,1,2],"format":".3~g","labelOverlap":false,"tickCount":10}},"y2":{"field":"hi"}}},
   {"data":{"values":[{}]},"mark":{"type":"rule","color":"#ff0000","strokeWidth":3.5},"encoding":{"y":{"datum":0,"type":"quantitative"}}},
   {"mark":{"type":"line","color":"#00ff00","strokeWidth":4,"clip":true,"strokeJoin":"round"},"encoding":{"x":{"field":"x","type":"quantitative","title":null},"y":{"field":"m","type":"quantitative","title":null}}}]},
  {"width":222,"height":72,"title":{"text":"FEDFUNDS","offset":5},"data":{"name":"R8"},"layer":[
   {"mark":{"type":"area","color":"#cccccc","clip":true},"encoding":{"x":{"field":"x","type":"quantitative","title":null,"scale":{"domain":[1,60],"nice":false,"zero":false},"axis":{"values":[20,40,60],"format":"d","labelOverlap":false,"tickCount":10}},"y":{"field":"lo","type":"quantitative","title":null,"scale":{"domain":[-0.01,0.57],"nice":false,"zero":false},"axis":{"values":[0,0.5],"format":".3~g","labelOverlap":false,"tickCount":10}},"y2":{"field":"hi"}}},
   {"data":{"values":[{}]},"mark":{"type":"rule","color":"#ff0000","strokeWidth":3.5},"encoding":{"y":{"datum":0,"type":"quantitative"}}},
   {"mark":{"type":"line","color":"#00ff00","strokeWidth":4,"clip":true,"strokeJoin":"round"},"encoding":{"x":{"field":"x","type":"quantitative","title":null},"y":{"field":"m","type":"quantitative","title":null}}}]}
 ]}
],
"spacing":135,
"config":{
 "font":"DejaVu Sans",
 "locale":{"number":{"decimal":".","thousands":",","grouping":[3],"currency":["$",""],"minus":"-"}},
 "view":{"stroke":null},
 "axis":{"domainColor":"#404040","domainWidth":1,"ticks":false,"tickSize":0,"grid":true,"gridColor":"#e4e4e4","gridWidth":1,"labelFont":"DejaVu Sans","labelFontSize":17,"labelColor":"#262626","labelFlush":false,"labelOverlap":false},
 "axisX":{"labelPadding":12,"labelAngle":0},
 "axisY":{"labelPadding":5,"titleAngle":0,"titleAlign":"left","titleBaseline":"alphabetic","titleX":0,"titleY":-5,"titleFont":"DejaVu Sans","titleFontSize":17,"titleFontWeight":"normal","titleColor":"#262626"},
 "title":{"font":"DejaVu Sans","fontSize":18,"fontWeight":"normal","color":"#000000","baseline":"alphabetic","offset":6}
}
}
